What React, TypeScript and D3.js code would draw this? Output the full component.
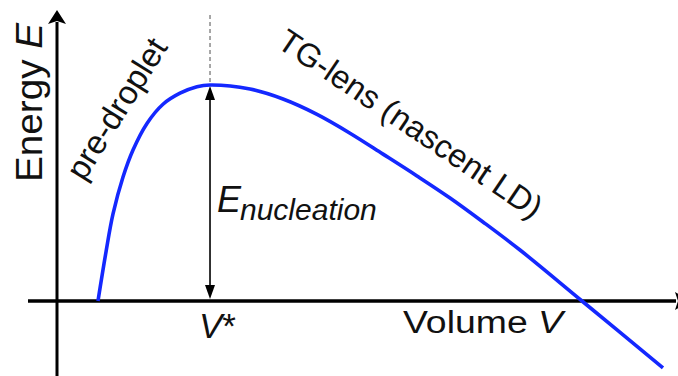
import React from 'react';
import * as d3 from 'd3';

// Curve data (volume V, energy E)
const volume = [0.66, 0.789, 0.902, 1.063, 1.224, 1.449, 1.707, 1.981, 2.254, 2.464, 3.108, 3.639, 4.187, 4.718, 5.25, 5.797, 6.329, 6.86, 7.456, 8.454, 9.758];
const energy = [0, 0.227, 0.403, 0.574, 0.699, 0.822, 0.911, 0.962, 0.992, 1.0, 0.981, 0.935, 0.864, 0.777, 0.68, 0.579, 0.477, 0.366, 0.236, 0, -0.31];
const vStar = 2.464;
const eBarrier = 1.0;

const labelYAxis = 'Energy ';
const labelYAxisVar = 'E';
const labelXAxis = 'Volume ';
const labelXAxisVar = 'V';
const labelVStar = 'V';
const labelPre = 'pre-droplet';
const labelTG = 'TG-lens (nascent LD)';
const labelEnuc = 'E';
const labelEnucSub = 'nucleation';

const W = 678;
const H = 376;
const FONT = '"Liberation Sans", Arial, sans-serif';

export default function App() {
  const x = d3.scaleLinear().domain([0, 10]).range([57, 678]);
  const y = d3.scaleLinear().domain([0, 1]).range([301, 85]);

  const pts: [number, number][] = volume.map((v, i) => [v, energy[i]]);
  const line = d3
    .line<[number, number]>()
    .x((d) => x(d[0]))
    .y((d) => y(d[1]))
    .curve(d3.curveCatmullRom.alpha(0.5));

  const x0 = x(0);
  const y0 = y(0);
  const xs = x(vStar);
  const ytop = y(eBarrier);

  return (
    <svg
      width={W}
      height={H}
      style={{ position: 'absolute', left: 0, top: 0, display: 'block', background: '#fff' }}
      fontFamily={FONT}
    >
      {/* dashed guide above the barrier */}
      <line x1={xs} x2={xs} y1={15} y2={ytop} stroke="#8a8a8a" strokeWidth={1.5} strokeDasharray="4,3" />

      {/* axes */}
      <line x1={x0} x2={x0} y1={H} y2={22} stroke="#000" strokeWidth={3} />
      <path d={`M${x0},10 L${x0 + 9},24 L${x0},21 L${x0 - 9},24 Z`} fill="#000" />
      <line x1={28} x2={676} y1={y0} y2={y0} stroke="#000" strokeWidth={3.5} />
      <path d={`M${690},${y0} L${675},${y0 - 9} L${678},${y0} L${675},${y0 + 9} Z`} fill="#000" />

      {/* nucleation barrier double arrow */}
      <line x1={xs} x2={xs} y1={ytop + 8} y2={y0 - 8} stroke="#000" strokeWidth={1.6} />
      <path d={`M${xs},${ytop + 1} L${xs + 5},${ytop + 15} L${xs - 5},${ytop + 15} Z`} fill="#000" />
      <path d={`M${xs},${y0 - 2} L${xs + 5},${y0 - 16} L${xs - 5},${y0 - 16} Z`} fill="#000" />

      {/* energy curve */}
      <path d={line(pts) || ''} fill="none" stroke="#1428ff" strokeWidth={3.6} strokeLinecap="butt" />

      {/* labels */}
      <text transform="translate(42,182) rotate(-90)" fontSize={37} fill="#111" textLength={159} lengthAdjust="spacingAndGlyphs">
        {labelYAxis}
        <tspan fontStyle="italic">{labelYAxisVar}</tspan>
      </text>

      <text transform="translate(119,110) rotate(-58)" fontSize={33} fill="#111" textAnchor="middle" dy="0.26em">
        {labelPre}
      </text>

      <text transform="translate(409,126) rotate(34)" fontSize={32.5} fill="#111" textAnchor="middle" dy="0.26em">
        {labelTG}
      </text>

      <text x={217} y={212} fontSize={36} fill="#111" fontStyle="italic">
        {labelEnuc}
      </text>
      <text x={240} y={220} fontSize={30} fill="#111" fontStyle="italic">
        {labelEnucSub}
      </text>

      <text x={199} y={338} fontSize={35} fill="#111">
        <tspan fontStyle="italic">{labelVStar}</tspan>
        <tspan>*</tspan>
      </text>

      <text x={403} y={333} fontSize={31} fill="#111" textLength={160} lengthAdjust="spacingAndGlyphs">
        {labelXAxis}
        <tspan fontStyle="italic">{labelXAxisVar}</tspan>
      </text>
    </svg>
  );
}
